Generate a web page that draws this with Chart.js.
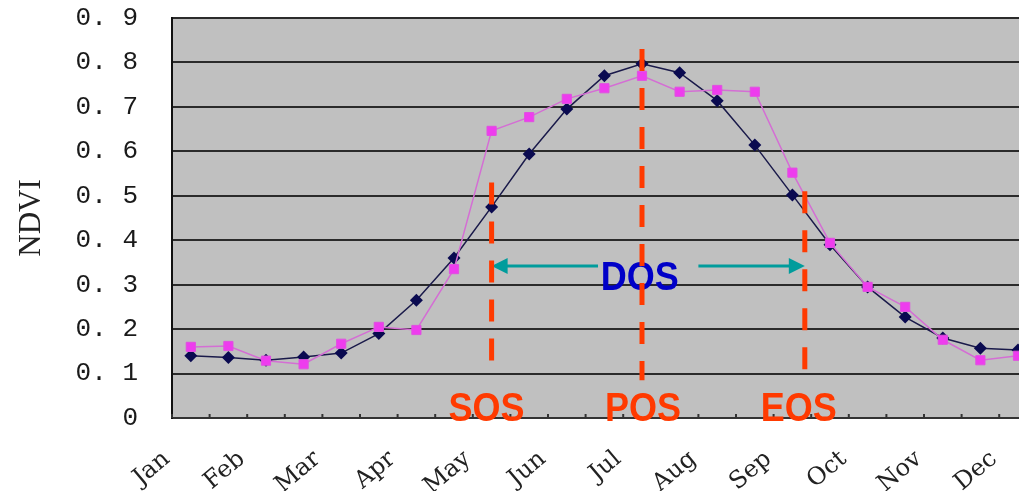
<!DOCTYPE html>
<html>
<head>
<meta charset="utf-8">
<script src="https://cdn.jsdelivr.net/npm/chart.js@4.4.1/dist/chart.umd.min.js"></script>
<style>
  html, body { margin: 0; padding: 0; background: #fff; overflow: hidden; }
  #wrap { width: 1090px; height: 491px; }
</style>
</head>
<body>
<div id="wrap"><canvas id="ndviChart" width="1090" height="491"></canvas></div>
<script>
// months, two composites per month
const months = ['Jan', 'Feb', 'Mar', 'Apr', 'May', 'Jun', 'Jul', 'Aug', 'Sep', 'Oct', 'Nov', 'Dec'];
const yTicks = [0, 0.1, 0.2, 0.3, 0.4, 0.5, 0.6, 0.7, 0.8, 0.9];

// fitted curve (dark diamonds)
const ndviFit = [0.14, 0.136, 0.13, 0.137, 0.146, 0.19, 0.265, 0.36, 0.475, 0.594, 0.695, 0.77,
                 0.797, 0.777, 0.714, 0.614, 0.502, 0.39, 0.295, 0.227, 0.18, 0.157, 0.153];
// raw NDVI (pink squares)
const ndviRaw = [0.16, 0.162, 0.129, 0.121, 0.167, 0.205, 0.198, 0.335, 0.646, 0.677, 0.718, 0.742,
                 0.77, 0.734, 0.738, 0.734, 0.552, 0.394, 0.295, 0.25, 0.176, 0.13, 0.14];

// phenology markers (x in composite index, y in NDVI)
const markerNames = ['SOS', 'POS', 'EOS'];
const markerX = [8, 12, 16.33];
const markerTop = [0.53, 0.83, 0.51];
const markerBottom = [0.10, 0.085, 0.108];
const markerShift = [-5, 1, -6]; // label nudge, px
const dosLevel = 0.342;

const labels = months.flatMap(m => [m, '']);

function arrow(ctx, x1, x2, y) {
  const dir = Math.sign(x2 - x1);
  ctx.beginPath();
  ctx.moveTo(x1, y);
  ctx.lineTo(x2 - dir * 14, y);
  ctx.stroke();
  ctx.beginPath();
  ctx.moveTo(x2, y);
  ctx.lineTo(x2 - dir * 16, y - 8);
  ctx.lineTo(x2 - dir * 16, y + 8);
  ctx.closePath();
  ctx.fill();
}

const decor = {
  id: 'decor',
  beforeDraw(chart) {
    const { ctx, chartArea: a } = chart;
    ctx.save();
    ctx.fillStyle = '#c0c0c0';
    ctx.fillRect(a.left, a.top, a.right - a.left, a.bottom - a.top);
    ctx.restore();
  },
  afterDatasetsDraw(chart) {
    const { ctx, chartArea: a, scales: { x, y } } = chart;
    const step = x.getPixelForValue(1) - x.getPixelForValue(0);
    ctx.save();
    // little inner ticks on the category axis
    ctx.strokeStyle = '#333';
    ctx.lineWidth = 2;
    for (let i = 0; i <= labels.length; i++) {
      const px = x.getPixelForValue(i) - step / 2;
      ctx.beginPath();
      ctx.moveTo(px, a.bottom);
      ctx.lineTo(px, a.bottom - 4);
      ctx.stroke();
    }

    // DOS arrows + text
    const yArrow = y.getPixelForValue(dosLevel);
    ctx.strokeStyle = '#009c9c';
    ctx.fillStyle = '#009c9c';
    ctx.lineWidth = 3;
    arrow(ctx, x.getPixelForValue(10.83), x.getPixelForValue(markerX[0]), yArrow);
    arrow(ctx, x.getPixelForValue(13.5), x.getPixelForValue(markerX[2]), yArrow);

    ctx.fillStyle = '#0000c8';
    ctx.font = 'bold 36px "Liberation Sans", Arial, sans-serif';
    ctx.textAlign = 'center';
    ctx.textBaseline = 'alphabetic';
    ctx.save();
    ctx.translate(x.getPixelForValue(11.94), y.getPixelForValue(0.288));
    ctx.scale(1, 1.15);
    ctx.fillText('DOS', 0, 0);
    ctx.restore();

    // dashed marker lines
    ctx.strokeStyle = '#ff3a00';
    ctx.lineWidth = 5;
    ctx.setLineDash([22, 17]);
    markerNames.forEach((n, i) => {
      const px = x.getPixelForValue(markerX[i]);
      ctx.beginPath();
      ctx.moveTo(px, y.getPixelForValue(markerTop[i]));
      ctx.lineTo(px, y.getPixelForValue(markerBottom[i]));
      ctx.stroke();
    });
    ctx.setLineDash([]);

    // marker labels
    ctx.fillStyle = '#ff3a00';
    markerNames.forEach((n, i) => {
      ctx.save();
      ctx.translate(x.getPixelForValue(markerX[i]) + markerShift[i], a.bottom + 3);
      ctx.scale(1, 1.15);
      ctx.fillText(n, 0, 0);
      ctx.restore();
    });
    ctx.restore();
  }
};

new Chart(document.getElementById('ndviChart'), {
  type: 'line',
  data: {
    labels: labels,
    datasets: [
      {
        label: 'NDVI raw',
        data: ndviRaw,
        order: 0,
        borderColor: '#d46ed4',
        borderWidth: 1.5,
        backgroundColor: '#ee3cee',
        pointStyle: 'rect',
        pointRadius: 6.5,
        pointBorderWidth: 1,
        pointBorderColor: '#e050e0',
        tension: 0
      },
      {
        label: 'NDVI fitted',
        data: ndviFit,
        order: 1,
        borderColor: '#1a1a4a',
        borderWidth: 1.5,
        backgroundColor: '#0a0a50',
        pointStyle: 'rectRot',
        pointRadius: 6.5,
        pointBorderWidth: 0,
        tension: 0
      }
    ]
  },
  options: {
    responsive: false,
    animation: false,
    layout: { padding: { top: 18, right: 15.6, left: 0, bottom: 0 } },
    plugins: {
      legend: { display: false },
      tooltip: { enabled: false }
    },
    scales: {
      x: {
        offset: true,
        grid: { display: false },
        border: { display: true, color: '#333', width: 2 },
        ticks: {
          autoSkip: false,
          minRotation: 40,
          maxRotation: 40,
          padding: 19,
          labelOffset: -24,
          color: '#222',
          font: { family: '"DejaVu Serif", serif', size: 24 }
        },
        afterFit: s => { s.height = 73; s.paddingLeft = 0; s.paddingRight = 0; }
      },
      y: {
        min: 0,
        max: 0.9,
        afterBuildTicks: s => { s.ticks = yTicks.map(v => ({ value: v })); },
        grid: { color: '#2b2b2b', lineWidth: 2, drawTicks: false },
        border: { display: true, color: '#111', width: 2 },
        ticks: {
          padding: 34,
          color: '#1a1a1a',
          font: { family: '"Liberation Mono", monospace', size: 26 },
          callback: v => v === 0 ? '0' : v.toFixed(1).replace('.', '. ')
        },
        title: {
          display: true,
          text: 'NDVI',
          color: '#222',
          padding: { top: 13, bottom: 0 },
          font: { family: '"Liberation Serif", serif', size: 31 }
        },
        afterFit: s => { s.width = 172; s.paddingTop = 0; s.paddingBottom = 0; }
      }
    }
  },
  plugins: [decor]
});
</script>
</body>
</html>
